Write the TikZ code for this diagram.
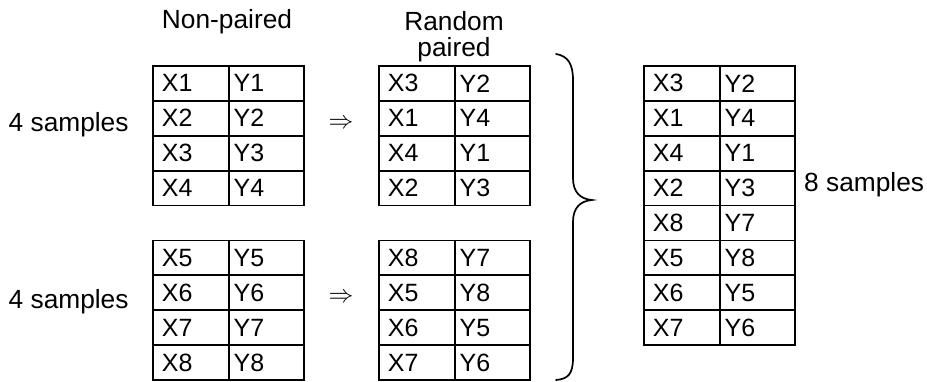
\documentclass[tikz,border=0pt]{standalone}
\usepackage{fontspec}
\setmainfont{Liberation Sans}
\tikzset{
  txt/.style={font=\fontsize{26.3}{31}\selectfont, inner sep=0pt},
  cell/.style={font=\fontsize{25}{30}\selectfont, draw, line width=1.8pt,
    minimum height=34.9pt, inner ysep=0pt, anchor=north west, align=left},
  xcell/.style={cell, text width=57.7pt, inner xsep=9pt},
  ycell/.style={cell, text width=65.7pt, inner xsep=5pt},
  bracepath/.style={line width=1.7pt, line cap=round},
}
% one two-column table: name, left x, first row index, list of X/Y pairs
\newcommand\pairtable[4]{%
  \foreach \a/\b [count=\r from 0] in {#4} {
    \node[xcell] (#1x\r) at (#2, {65+34.9*(#3+\r)}) {X\a};
    \node[ycell] (#1y\r) at (#2+75.7, {65+34.9*(#3+\r)}) {Y\b};
  }%
}
\begin{document}
\begin{tikzpicture}[x=1pt, y=-1pt]
  \useasboundingbox (0,0) rectangle (927,381);

  % column headings
  \node[txt, anchor=base] (hnp) at (227,28.3) {Non-paired};
  \node[txt, anchor=base] (hr1) at (454,30) {Random};
  \node[txt, anchor=base] (hr2) at (454,56.7) {paired};

  % sample tables
  \pairtable{a}{152}{0}{1/1,2/2,3/3,4/4}
  \pairtable{b}{152}{5}{5/5,6/6,7/7,8/8}
  \pairtable{c}{378}{0}{3/2,1/4,4/1,2/3}
  \pairtable{d}{378}{5}{8/7,5/8,6/5,7/6}
  \pairtable{e}{643}{0}{3/2,1/4,4/1,2/3,8/7,5/8,6/5,7/6}

  % side labels
  \node[txt, anchor=base west] (s4a) at (8.5,131.7) {4 samples};
  \node[txt, anchor=base west] (s4b) at (8.5,308) {4 samples};
  \node[txt, anchor=base west] (s8) at (804,191.7) {8 samples};

  % implication arrows
  \node[txt] (ra) at (341,124) {$\Rightarrow$};
  \node[txt] (rb) at (341,298) {$\Rightarrow$};

  % curly brace joining the two paired tables
  \draw[bracepath] (556,54) .. controls (568,56) and (573,64) .. (573,80)
    -- (573,178) .. controls (573,192) and (580,199) .. (592,200)
    .. controls (580,201) and (573,208) .. (573,222)
    -- (573,358) .. controls (573,374) and (568,379) .. (556,380);
\end{tikzpicture}
\end{document}
